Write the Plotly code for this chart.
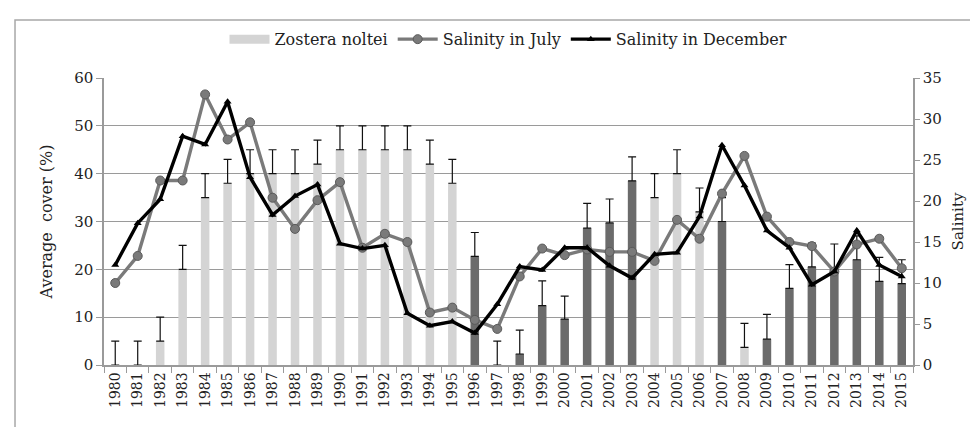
import plotly.graph_objects as go

years = [str(y) for y in range(1980, 2016)]

# Average cover (%) per year and its (upper) standard error
cover = [0, 0, 5, 20, 35, 38, 40, 40, 40, 42,
         45, 45, 45, 45, 42, 38, 22.7, 0, 2.3, 12.4,
         9.6, 28.6, 29.7, 38.5, 35, 40, 32, 30, 3.7, 5.4,
         16, 20.5, 20, 22, 17.5, 17]
cover_err = [5, 5, 5, 5, 5, 5, 5, 5, 5, 5,
             5, 5, 5, 5, 5, 5, 5, 5, 5, 5.2,
             4.8, 5.2, 5, 5, 5, 5, 5, 5, 5, 5.2,
             5, 5, 5.3, 5, 5, 5]
# True = Zostera noltei (light bars), False = other (dark bars)
is_noltei = [True] * 16 + [False, False, False, False,
                           False, False, False, False, True, True, True, False, True, False,
                           False, False, False, False, False, False]

sal_july = [10, 13.3, 22.5, 22.5, 33, 27.5, 29.6, 20.4, 16.6, 20.1,
            22.3, 14.3, 16.0, 15.0, 6.4, 7.0, 5.5, 4.4, 10.8, 14.2,
            13.4, 14.1, 13.8, 13.8, 12.7, 17.7, 15.4, 20.9, 25.5, 18.1,
            15.0, 14.5, 11.4, 14.7, 15.4, 11.8]
sal_dec = [12.2, 17.3, 20.2, 27.9, 26.9, 32.1, 22.9, 18.3, 20.6, 22.0,
           14.8, 14.2, 14.6, 6.3, 4.8, 5.3, 3.9, 7.4, 12.0, 11.6,
           14.3, 14.3, 12.1, 10.6, 13.5, 13.7, 18.1, 26.8, 21.9, 16.4,
           14.3, 9.8, 11.4, 16.4, 12.2, 10.8]

FONT = "DejaVu Serif"
GRID = "#9a9a9a"
LIGHT = "#d4d4d4"
DARK = "#6b6b6b"
TXT = "#222222"

def pick(vals, flag):
    return [v if f == flag else None for v, f in zip(vals, is_noltei)]

fig = go.Figure()
fig.add_trace(go.Bar(
    x=years, y=pick(cover, True), name="Zostera noltei", showlegend=False,
    marker=dict(color=LIGHT, line=dict(width=0)), width=0.38,
    error_y=dict(type="data", array=pick(cover_err, True), arrayminus=[0] * 36,
                 symmetric=False, color="#111111", thickness=1.2, width=4),
    yaxis="y"))
fig.add_trace(go.Bar(
    x=years, y=pick(cover, False), name="other", showlegend=False,
    marker=dict(color=DARK, line=dict(width=0)), width=0.38,
    error_y=dict(type="data", array=pick(cover_err, False), arrayminus=[0] * 36,
                 symmetric=False, color="#111111", thickness=1.2, width=4),
    yaxis="y"))
# legend entry for the bars (wide swatch as in the original)
fig.add_trace(go.Scatter(
    x=[None], y=[None], name="Zostera noltei", mode="lines",
    line=dict(color=LIGHT, width=9), yaxis="y"))
fig.add_trace(go.Scatter(
    x=years, y=sal_july, name="Salinity in July", mode="lines+markers",
    line=dict(color="#7a7a7a", width=3.4),
    marker=dict(symbol="circle", size=9, color="#7a7a7a", line=dict(color="#5a5a5a", width=1)),
    yaxis="y2"))
fig.add_trace(go.Scatter(
    x=years, y=sal_dec, name="Salinity in December", mode="lines+markers",
    line=dict(color="#000000", width=3.4),
    marker=dict(symbol="triangle-up", size=7, color="#000000"),
    yaxis="y2"))

fig.update_layout(
    width=978, height=427,
    margin=dict(l=96, r=73, t=70, b=70),
    paper_bgcolor="white", plot_bgcolor="white",
    barmode="overlay",
    font=dict(family=FONT, size=15, color=TXT),
    showlegend=True,
    legend=dict(orientation="h", x=0.5, xanchor="center", y=1.135, yanchor="middle",
                font=dict(family=FONT, size=16, color=TXT),
                traceorder="normal", itemwidth=40, bgcolor="rgba(0,0,0,0)"),
    xaxis=dict(type="category", range=[-0.5, 35.5], autorange=False,
               tickangle=-90, showgrid=False,
               showline=True, linecolor=GRID, linewidth=1.5,
               ticks="outside", tickson="boundaries", ticklen=6, tickcolor=GRID,
               tickfont=dict(family=FONT, size=14, color=TXT)),
    yaxis=dict(range=[0, 60], dtick=10, showgrid=True, gridcolor=GRID, gridwidth=1.2,
               showline=True, linecolor=GRID, linewidth=1.5,
               ticks="outside", ticklen=6, tickcolor=GRID,
               tickfont=dict(family=FONT, size=15, color=TXT),
               title=dict(text="Average\u00a0 cover (%)", standoff=18,
                          font=dict(family=FONT, size=16, color=TXT)),
               zeroline=False),
    yaxis2=dict(range=[0, 35], dtick=5, overlaying="y", side="right", showgrid=False,
                showline=True, linecolor=GRID, linewidth=1.5,
                ticks="outside", ticklen=5, tickcolor=GRID,
                tickfont=dict(family=FONT, size=15, color=TXT),
                title=dict(text="Salinity", standoff=12,
                           font=dict(family=FONT, size=15, color=TXT)),
                zeroline=False),
    shapes=[dict(type="rect", xref="paper", yref="paper",
                 x0=-0.110, x1=1.2, y0=-0.5, y1=1.202,
                 line=dict(color="#a8a8a8", width=1.5), layer="below")],
)

fig.write_html("out.html")
